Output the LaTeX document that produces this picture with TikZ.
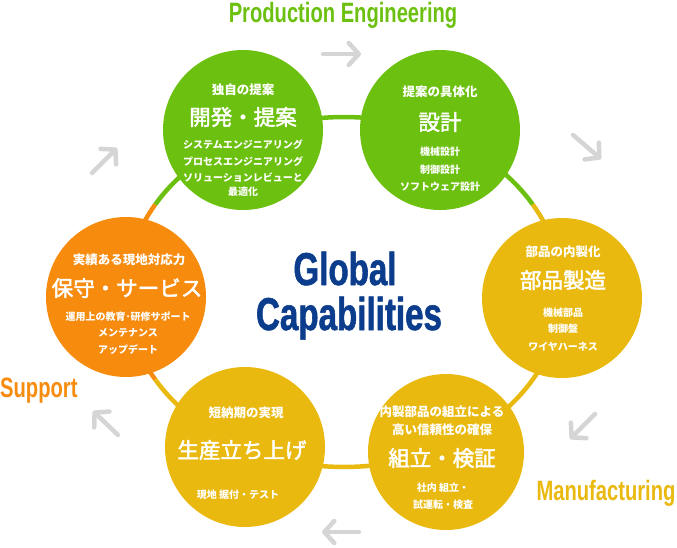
\documentclass[tikz,border=0pt]{standalone}
\usepackage{fontspec}
\usetikzlibrary{arrows.meta}
\newfontfamily\jp{Noto Sans CJK JP}
\newfontfamily\jpt{Noto Sans CJK JP}[FakeBold=2.2]
\newfontfamily\cond{Liberation Sans}[FakeStretch=0.72]
\newfontfamily\condh{Liberation Sans Bold}[FakeStretch=0.72, FakeBold=1.2]
\definecolor{cgreen}{HTML}{6CC00F}
\definecolor{cyellow}{HTML}{EAB90F}
\definecolor{corange}{HTML}{F68B0E}
\definecolor{cnavy}{HTML}{0B3D8C}
\definecolor{cgray}{HTML}{D5D5D5}
\tikzset{
  bub/.style={circle, minimum size=#1, inner sep=0pt, draw=none},
  ring/.style={line width=4.5pt},
  sub/.style={text=white, inner sep=0pt, font=\jp\bfseries\fontsize{12.5}{14}\selectfont},
  ttl/.style={text=white, inner sep=0pt, font=\jpt\fontsize{21.5}{24}\selectfont},
  itm/.style={text=white, inner sep=0pt, font=\jp\bfseries\fontsize{10}{12}\selectfont},
  lab/.style={inner sep=0pt, anchor=base, font=\cond\bfseries\fontsize{28}{30}\selectfont},
  big/.style={inner sep=0pt, anchor=base, text=cnavy, font=\condh\fontsize{46}{48}\selectfont},
  garrow/.style={draw=cgray, line width=4.5pt, line cap=round, line join=round,
    -{Straight Barb[length=10pt, width=22pt, round]}}
}
\begin{document}
\begin{tikzpicture}[x=1pt, y=-1pt]
\useasboundingbox (0,0) rectangle (677,547);
% ring
\draw[ring, cgreen] plot[domain=30:150, samples=80] ({344+218*cos(\x)},{292-175*sin(\x)});
\draw[ring, corange] plot[domain=150:210, samples=40] ({344+218*cos(\x)},{292-175*sin(\x)});
\draw[ring, cyellow] plot[domain=210:390, samples=100] ({344+218*cos(\x)},{292-175*sin(\x)});
% circles
\node[bub=160pt, fill=cgreen] (c1) at (243,130) {};
\node[bub=160pt, fill=cgreen] (c2) at (440,130) {};
\node[bub=160pt, fill=cyellow] (c3) at (562,298) {};
\node[bub=156pt, fill=cyellow] (c4) at (446,452) {};
\node[bub=160pt, fill=cyellow] (c5) at (245,447) {};
\node[bub=160pt, fill=corange] (c6) at (126,297) {};
% c1
\node[sub] (c1s) at (243,90) {独自の提案};
\node[ttl] (c1t) at (243,117) {開発・提案};
\node[itm] (c1a) at (243,145) {システムエンジニアリング};
\node[itm] (c1b) at (243,162) {プロセスエンジニアリング};
\node[itm] (c1c) at (243,178) {ソリューションレビューと};
\node[itm] (c1d) at (243,192) {最適化};
% c2
\node[sub] (c2s) at (440,92) {提案の具体化};
\node[ttl] (c2t) at (440,122) {設計};
\node[itm] (c2a) at (440,152) {機械設計};
\node[itm] (c2b) at (440,170) {制御設計};
\node[itm] (c2c) at (440,187) {ソフトウェア設計};
% c3
\node[sub] (c3s) at (563,252) {部品の内製化};
\node[ttl] (c3t) at (563,280) {部品製造};
\node[itm] (c3a) at (563,313) {機械部品};
\node[itm] (c3b) at (563,329) {制御盤};
\node[itm] (c3c) at (563,347) {ワイヤハーネス};
% c4
\node[sub] (c4s) at (442,412) {内製部品の組立による};
\node[sub] (c4u) at (442,430) {高い信頼性の確保};
\node[ttl] (c4t) at (442,458) {組立・検証};
\node[itm] (c4a) at (443,488) {社内 組立・};
\node[itm] (c4b) at (443,505) {試運転・検査};
% c5
\node[sub] (c5s) at (246,413) {短納期の実現};
\node[ttl] (c5t) at (242,450) {生産立ち上げ};
\node[itm] (c5a) at (238,495) {現地 据付・テスト};
% c6
\node[sub] (c6s) at (129,260) {実績ある現地対応力};
\node[ttl] (c6t) at (127,288) {保守・サービス};
\node[itm] (c6a) at (128,317) {運用上の教育･研修サポート};
\node[itm] (c6b) at (128,333) {メンテナンス};
\node[itm] (c6c) at (128,350) {アップデート};
% center
\node[big] (g1) at (345,285) {Global};
\node[big] (g2) at (349,330) {Capabilities};
% labels
\node[lab, text=cgreen] (pe) at (343,22) {Production Engineering};
\node[lab, text=cyellow] (mf) at (606,500) {Manufacturing};
\node[lab, text=corange, anchor=base west] (sp) at (0,397) {Support};
% arrows
\coordinate (a1s) at (323,54);  \coordinate (a1e) at (361,54);
\coordinate (a2s) at (573,135); \coordinate (a2e) at (601,159);
\coordinate (a3s) at (595,414); \coordinate (a3e) at (570,439);
\coordinate (a4s) at (359,532); \coordinate (a4e) at (322,532);
\coordinate (a5s) at (118,435); \coordinate (a5e) at (93,411);
\coordinate (a6s) at (92,173);  \coordinate (a6e) at (117,148);
\draw[garrow] (a1s) -- (a1e);
\draw[garrow] (a2s) -- (a2e);
\draw[garrow] (a3s) -- (a3e);
\draw[garrow] (a4s) -- (a4e);
\draw[garrow] (a5s) -- (a5e);
\draw[garrow] (a6s) -- (a6e);
\end{tikzpicture}
\end{document}
